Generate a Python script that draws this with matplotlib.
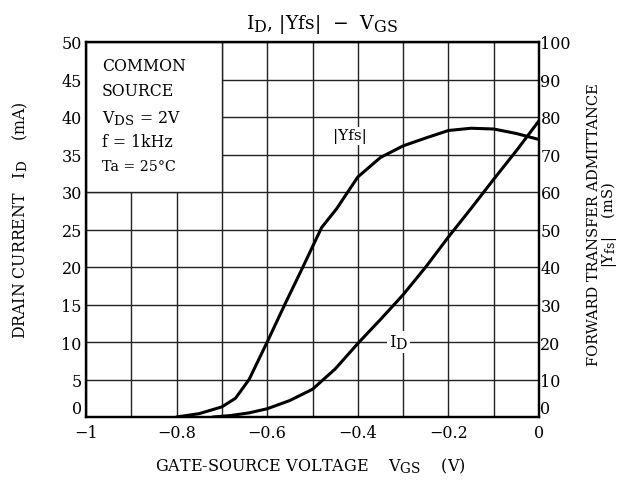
import matplotlib
matplotlib.use("Agg")
import matplotlib.pyplot as plt
from matplotlib.patches import Rectangle
import matplotlib._mathtext as _mt

_mt.SHRINK_FACTOR = 0.85  # larger subscripts, like the reference

plt.rcParams['font.family'] = ['DejaVu Serif']
plt.rcParams['mathtext.fontset'] = 'dejavuserif'

# Data
vgs_id = [-0.72, -0.68, -0.64, -0.6, -0.55, -0.5, -0.45, -0.4, -0.35, -0.3, -0.25, -0.2, -0.15, -0.1, -0.05, 0.0]
id_ma = [0.0, 0.2, 0.55, 1.1, 2.2, 3.7, 6.4, 9.8, 13.0, 16.3, 20.0, 24.0, 27.8, 31.7, 35.5, 39.5]

vgs_yfs = [-0.8, -0.75, -0.7, -0.67, -0.64, -0.6, -0.56, -0.52, -0.48, -0.447, -0.4, -0.35, -0.3, -0.25, -0.2, -0.15, -0.1, -0.05, 0.0]
yfs_ms = [0.0, 0.9, 2.7, 5.0, 10.0, 20.0, 30.3, 40.3, 50.5, 55.5, 64.0, 69.2, 72.3, 74.4, 76.4, 77.0, 76.8, 75.6, 74.0]

x_ticks = [-1, -0.9, -0.8, -0.7, -0.6, -0.5, -0.4, -0.3, -0.2, -0.1, 0]
x_labels = ['\u22121', '', '\u22120.8', '', '\u22120.6', '', '\u22120.4', '', '\u22120.2', '', '0']
left_ticks = [0, 5, 10, 15, 20, 25, 30, 35, 40, 45, 50]
right_ticks = [0, 10, 20, 30, 40, 50, 60, 70, 80, 90, 100]

fig = plt.figure(figsize=(6.21, 4.85), dpi=100)
ax = fig.add_axes([86/621, 1-418/485, 453/621, 375/485])
ax.set_xlim(-1, 0)
ax.set_ylim(0, 50)
ax.set_xticks(x_ticks)
ax.set_xticklabels(x_labels, fontsize=11.5)
ax.set_yticks(left_ticks)
ax.set_yticklabels([str(t) for t in left_ticks], fontsize=11.5)
ax.tick_params(axis='y', length=0, pad=3)
ax.tick_params(axis='x', length=0, pad=5)
ax.set_axisbelow(True)
ax.grid(True, color='#222222', linewidth=1.0)
for s in ax.spines.values():
    s.set_linewidth(1.6)
ylab = ax.get_yticklabels()
ylab[0].set_verticalalignment('bottom')

ax2 = ax.twinx()
ax2.set_ylim(0, 100)
ax2.set_yticks(right_ticks)
ax2.set_yticklabels([str(t) for t in right_ticks], fontsize=11.5)
ax2.tick_params(length=0, pad=1)
for s in ax2.spines.values():
    s.set_linewidth(1.6)
rlab = ax2.get_yticklabels()
rlab[0].set_verticalalignment('bottom')

# White condition box
ax.add_patch(Rectangle((-1, 30), 0.3, 20, facecolor='white', edgecolor='#222222', linewidth=1.0, zorder=1))
cx = -0.965
ax.text(cx, 46.8, 'COMMON', fontsize=11.3, va='center', ha='left', zorder=4)
ax.text(cx, 43.5, 'SOURCE', fontsize=11.3, va='center', ha='left', zorder=4)
ax.text(cx, 39.9, r'$\mathrm{V_{DS}}$ = 2V', fontsize=11.3, va='center', ha='left', zorder=4)
ax.text(cx, 36.7, 'f = 1kHz', fontsize=11.3, va='center', ha='left', zorder=4)
ax.text(cx, 33.5, 'Ta = 25\u00b0C', fontsize=10.3, va='center', ha='left', zorder=4)

# Curves
ax.plot(vgs_id, id_ma, color='black', linewidth=2.2, zorder=3, solid_capstyle='round')
ax2.plot(vgs_yfs, yfs_ms, color='black', linewidth=2.2, zorder=3, solid_capstyle='round')

ax.text(-0.31, 10, r'$\mathrm{I_D}$', fontsize=12, ha='center', va='center', zorder=4,
        bbox=dict(facecolor='white', edgecolor='none', pad=1.5))
ax.text(-0.417, 37.5, '|Yfs|', fontsize=11, ha='center', va='center', zorder=4,
        bbox=dict(facecolor='white', edgecolor='none', pad=1))

fig.text(322/621, 1-24/485, r'$\mathrm{I_D}$, |Yfs|  $-$  $\mathrm{V_{GS}}$', fontsize=13.5, ha='center', va='center')
fig.text(310/621, 1-466/485, r'GATE-SOURCE VOLTAGE    $\mathrm{V_{GS}}$    (V)', fontsize=11.5, ha='center', va='center')
fig.text(20/621, 1-220/485, r'DRAIN CURRENT   $\mathrm{I_D}$    (mA)', fontsize=11.3, rotation=90, ha='center', va='center')
fig.text(603/621, 1-225/485, 'FORWARD TRANSFER ADMITTANCE\n' + r'|$\mathrm{Y_{fs}}$|    (mS)',
         fontsize=10.5, rotation=90, ha='center', va='center', multialignment='center', linespacing=0.9)

fig.savefig('out.png', dpi=100, facecolor='white')
